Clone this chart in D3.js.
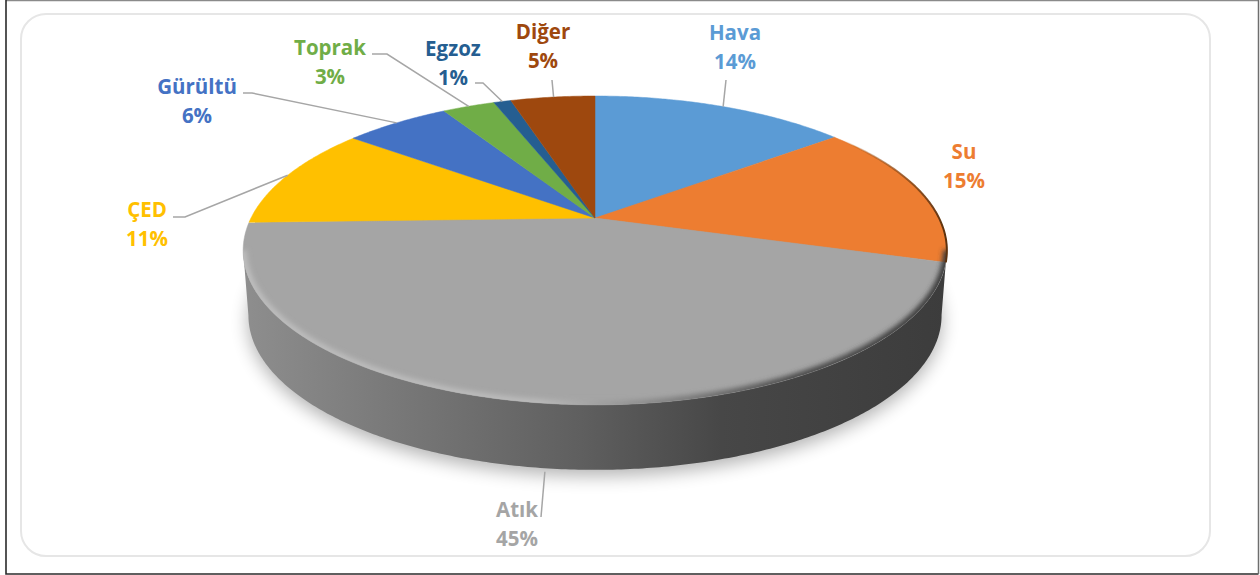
<!DOCTYPE html>
<html lang="tr">
<head>
<meta charset="utf-8">
<title>Dağılım</title>
<script src="https://cdn.jsdelivr.net/npm/d3@7/dist/d3.min.js"></script>
<style>
  html, body { margin: 0; padding: 0; background: #fff; }
  svg { display: block; }
  text { font-family: "Open Sans", Lato, sans-serif; font-weight: 700; font-size: 20.5px; text-anchor: middle; }
</style>
</head>
<body>
<svg id="chart" width="1260" height="575"></svg>
<script>
// Slice names and shares, clockwise from twelve o'clock
const categories = ["Hava", "Su", "Atık", "ÇED", "Gürültü", "Toprak", "Egzoz", "Diğer"];
const shares = [14, 15, 45, 11, 6, 3, 1, 5];
const colors = ["#5b9bd5", "#ed7d31", "#a5a5a5", "#ffc000", "#4472c4", "#70ad47", "#255e91", "#9e480e"];

// Label anchors: centre x, first-line y, and leader elbow (null when a label has no leader)
const labelX = [735, 964, 517, 147, 197, 330, 453, 543];
const labelY = [33, 152, 510, 210, 87, 48, 49, 32];
const elbowX = [726, null, 541, 185, 252, 387, 483, 552];
const elbowY = [80, null, 517, 217, 93, 54, 83, 80];
const stubX = [null, null, null, 173, 243, 372, 475, null];

const svg = d3.select("#chart");
const defs = svg.append("defs");

// Perspective projection of the pie's unit circle onto the page
const cx = 595, apexY = 218, spanX = 344, spanY = 101.84, tilt = -0.21, depth = 65;
const project = a => {
  const u = Math.sin(a), v = -Math.cos(a), w = 1 + tilt * v;
  return [cx + spanX * u / w, (apexY + spanY * v) / w];
};
// The 3-D view turns sector directions a little further clockwise, fading out at twelve o'clock
const twist = a => a + 0.04 * Math.sqrt(Math.abs(Math.sin(a / 2)));
const lowered = ([x, y]) => [cx + (x - cx) * 0.985, y + depth];
const arcPoints = (a0, a1) => {
  const n = Math.max(2, Math.ceil(Math.abs(a1 - a0) / 0.01));
  return d3.range(n + 1).map(i => project(a0 + (a1 - a0) * i / n));
};
const line = d3.line();

const arcs = d3.pie().sort(null).value(d => d)(shares);

// Extremes of the rim bound the visible front wall
const sweep = d3.range(0, 2 * Math.PI, 0.005);
const rightA = d3.greatest(sweep, a => project(a)[0]);
const leftA = d3.least(sweep, a => project(a)[0]);
const frontRim = arcPoints(rightA, leftA);

// Filters and gradients
const blur = (id, sd) => defs.append("filter").attr("id", id)
  .attr("x", "-20%").attr("y", "-20%").attr("width", "140%").attr("height", "140%")
  .append("feGaussianBlur").attr("stdDeviation", sd);
blur("shadow", 9);
blur("soft", 2.4);
blur("hair", 0.7);

const grad = (id, stops) => {
  const g = defs.append("linearGradient").attr("id", id).attr("gradientUnits", "userSpaceOnUse")
    .attr("x1", 243).attr("x2", 947).attr("y1", 0).attr("y2", 0);
  stops.forEach(([o, c, op]) => g.append("stop").attr("offset", o).attr("stop-color", c).attr("stop-opacity", op === undefined ? 1 : op));
};
grad("wall", [[0, "#8e8e8e"], [0.22, "#787878"], [0.48, "#5f5f5f"], [0.68, "#474747"], [1, "#3c3c3c"]]);
grad("bevel", [[0, "#bdbdbd"], [0.42, "#bababa"], [0.58, "#8a8a8a"], [0.78, "#4c4c4c"], [1, "#3a3a3a"]]);
grad("edge", [[0.85, "#8a4a18", 0], [0.95, "#8a4a18", 0.9], [1, "#5a3010", 1]]);

// Page frame and the rounded panel
const frame = svg.append("g").attr("fill", "none");
frame.append("path").attr("d", "M6,0.5H1258.5").attr("stroke", "#8a8a8a").attr("stroke-width", 1.5);
frame.append("path").attr("d", "M6,0V574H1258.5").attr("stroke", "#2b2b2b").attr("stroke-width", 1.6);
frame.append("path").attr("d", "M1258.5,0V574").attr("stroke", "#6e6e6e").attr("stroke-width", 1.5);
svg.append("rect").attr("x", 21).attr("y", 14).attr("width", 1189).attr("height", 542)
  .attr("rx", 25).attr("fill", "#fff").attr("stroke", "#e6e6e6").attr("stroke-width", 2);

// Soft shadow under the disc
svg.append("path")
  .attr("d", line(arcPoints(0, 2 * Math.PI).map(lowered).map(([x, y]) => [x, y + 6])) + "Z")
  .attr("fill", "#000").attr("opacity", 0.3).attr("filter", "url(#shadow)");

// Front wall
svg.append("path")
  .attr("d", line([...frontRim, ...frontRim.map(lowered).reverse()]) + "Z")
  .attr("fill", "url(#wall)");

// Top face slices meeting at the projected centre
svg.append("g").selectAll("path").data(arcs).join("path")
  .attr("d", d => line([[cx, apexY], ...arcPoints(twist(d.startAngle), twist(d.endAngle))]) + "Z")
  .attr("fill", (d, i) => colors[i])
  .attr("stroke", (d, i) => colors[i]).attr("stroke-width", 0.5);

// Rim bevel on the front of the disc, kept inside the top face
defs.append("clipPath").attr("id", "disc").append("path")
  .attr("d", line(arcPoints(0, 2 * Math.PI)) + "Z");
svg.append("g").attr("clip-path", "url(#disc)").append("path")
  .attr("d", line(arcPoints(rightA, leftA)))
  .attr("fill", "none").attr("stroke", "url(#bevel)").attr("stroke-width", 8).attr("filter", "url(#soft)");

// Thin dark edge on the right of the orange slice
const suArc = arcs[1];
svg.append("path")
  .attr("d", line(arcPoints(twist(suArc.startAngle), twist(suArc.endAngle))))
  .attr("fill", "none").attr("stroke", "url(#edge)").attr("stroke-width", 2).attr("filter", "url(#hair)");

// Leaders from each slice's rim to its label; a front slice's leader starts below the wall
const leaders = svg.append("g").attr("fill", "none").attr("stroke", "#a6a6a6").attr("stroke-width", 1.5);
arcs.forEach((d, i) => {
  if (elbowX[i] === null) return;
  const mid = twist((d.startAngle + d.endAngle) / 2);
  let rim = project(mid);
  if (Math.cos(mid) < 0) rim = [rim[0] + 8, rim[1] + depth + 4];
  const pts = [rim, [elbowX[i], elbowY[i]]];
  if (stubX[i] !== null) pts.push([stubX[i], elbowY[i]]);
  leaders.append("path").attr("d", line(pts));
});

// Two-line labels: name, then share
const labels = svg.append("g").selectAll("text").data(categories).join("text")
  .attr("fill", (d, i) => colors[i]);
labels.append("tspan").attr("x", (d, i) => labelX[i]).attr("y", (d, i) => labelY[i] + 7).text(d => d);
labels.append("tspan").attr("x", (d, i) => labelX[i]).attr("y", (d, i) => labelY[i] + 36).text((d, i) => shares[i] + "%");
</script>
</body>
</html>
